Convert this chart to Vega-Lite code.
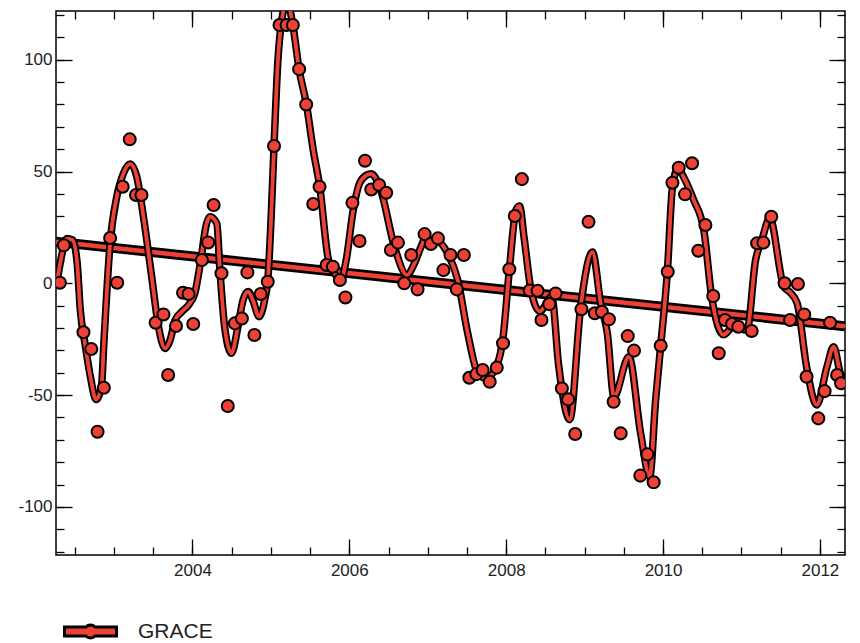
{
  "$schema": "https://vega.github.io/schema/vega-lite/v6.json",
  "width": 789,
  "height": 544,
  "autosize": {"type": "none"},
  "padding": {"left": 56, "top": 11, "right": 15, "bottom": 88},
  "background": "white",
  "config": {
    "view": {"stroke": "black", "strokeWidth": 1.5},
    "font": "Liberation Sans",
    "axis": {"domain": false, "grid": false, "labelFont": "Liberation Sans", "labelFontSize": 17, "labelColor": "#222", "tickColor": "black", "tickWidth": 1.3, "title": null}
  },
  "datasets": {
    "trend": [{"t": 2002.26, "v": 18.6}, {"t": 2012.32, "v": -19.2}],
    "curve": [
      {"t": 2002.27, "v": 0}, {"t": 2002.33, "v": 12}, {"t": 2002.40, "v": 20}, {"t": 2002.47, "v": 19.4}, {"t": 2002.53, "v": 9},
      {"t": 2002.57, "v": -12}, {"t": 2002.63, "v": -27}, {"t": 2002.70, "v": -42}, {"t": 2002.77, "v": -52}, {"t": 2002.84, "v": -46},
      {"t": 2002.87, "v": -27}, {"t": 2002.95, "v": 17.9}, {"t": 2003.035, "v": 38.7}, {"t": 2003.12, "v": 49.2}, {"t": 2003.205, "v": 53.4},
      {"t": 2003.29, "v": 47.7}, {"t": 2003.375, "v": 29.8}, {"t": 2003.48, "v": 3}, {"t": 2003.567, "v": -19.4}, {"t": 2003.65, "v": -29.1},
      {"t": 2003.715, "v": -25.4}, {"t": 2003.78, "v": -16.4}, {"t": 2003.864, "v": -12.7}, {"t": 2003.95, "v": -9.7}, {"t": 2004.03, "v": -4.5},
      {"t": 2004.10, "v": 8.9}, {"t": 2004.18, "v": 26.8}, {"t": 2004.225, "v": 29.8}, {"t": 2004.31, "v": 26.8}, {"t": 2004.35, "v": 6},
      {"t": 2004.41, "v": -19.4}, {"t": 2004.497, "v": -31.3}, {"t": 2004.58, "v": -19.4}, {"t": 2004.645, "v": -7.5}, {"t": 2004.709, "v": -3.7},
      {"t": 2004.77, "v": -7.5}, {"t": 2004.849, "v": -14.9}, {"t": 2004.92, "v": -7.5}, {"t": 2004.964, "v": 3}, {"t": 2005.007, "v": 32.8},
      {"t": 2005.04, "v": 61.4}, {"t": 2005.09, "v": 99.9}, {"t": 2005.13, "v": 115.5}, {"t": 2005.205, "v": 126}, {"t": 2005.28, "v": 115.5},
      {"t": 2005.359, "v": 95.8}, {"t": 2005.453, "v": 80}, {"t": 2005.54, "v": 59.6}, {"t": 2005.623, "v": 43.2}, {"t": 2005.73, "v": 11.2},
      {"t": 2005.81, "v": 4.5}, {"t": 2005.90, "v": 2.2}, {"t": 2005.96, "v": 10.4}, {"t": 2006.05, "v": 32.8}, {"t": 2006.13, "v": 44.7},
      {"t": 2006.22, "v": 48.4}, {"t": 2006.28, "v": 49}, {"t": 2006.40, "v": 41.7}, {"t": 2006.575, "v": 16.4}, {"t": 2006.736, "v": 3.7},
      {"t": 2006.83, "v": 8.9}, {"t": 2006.915, "v": 16.4}, {"t": 2006.957, "v": 19.4}, {"t": 2007.085, "v": 19.4}, {"t": 2007.254, "v": 13.4},
      {"t": 2007.382, "v": 1.5}, {"t": 2007.51, "v": -22.4}, {"t": 2007.638, "v": -40.2}, {"t": 2007.743, "v": -42.5}, {"t": 2007.89, "v": -35.8},
      {"t": 2007.956, "v": -25.4}, {"t": 2008.04, "v": 5.9}, {"t": 2008.125, "v": 32.8}, {"t": 2008.17, "v": 34.6}, {"t": 2008.23, "v": 20},
      {"t": 2008.32, "v": -3.7}, {"t": 2008.43, "v": -12.5}, {"t": 2008.58, "v": -6}, {"t": 2008.67, "v": -37}, {"t": 2008.81, "v": -61},
      {"t": 2008.95, "v": -10.5}, {"t": 2009.10, "v": 14}, {"t": 2009.205, "v": -9}, {"t": 2009.29, "v": -22.4}, {"t": 2009.374, "v": -50.7},
      {"t": 2009.565, "v": -32.8}, {"t": 2009.714, "v": -67}, {"t": 2009.83, "v": -86.5}, {"t": 2009.906, "v": -52}, {"t": 2009.97, "v": -28},
      {"t": 2010.055, "v": 5.2}, {"t": 2010.12, "v": 43}, {"t": 2010.19, "v": 51.4}, {"t": 2010.27, "v": 47}, {"t": 2010.39, "v": 37.3},
      {"t": 2010.52, "v": 23.8}, {"t": 2010.62, "v": -6}, {"t": 2010.77, "v": -23}, {"t": 2010.90, "v": -19.4}, {"t": 2011.07, "v": -20.9},
      {"t": 2011.18, "v": 10.4}, {"t": 2011.26, "v": 19.4}, {"t": 2011.36, "v": 29.1}, {"t": 2011.54, "v": -1.5}, {"t": 2011.62, "v": -4},
      {"t": 2011.71, "v": -8.9}, {"t": 2011.83, "v": -37.3}, {"t": 2011.96, "v": -54.4}, {"t": 2012.09, "v": -37.3}, {"t": 2012.175, "v": -28.4},
      {"t": 2012.26, "v": -40.3}, {"t": 2012.32, "v": -45}
    ],
    "points": [
      {"t": 2002.31, "v": 0.3}, {"t": 2002.36, "v": 17}, {"t": 2002.61, "v": -21.9}, {"t": 2002.71, "v": -29.4}, {"t": 2002.79, "v": -66.4},
      {"t": 2002.87, "v": -46.7}, {"t": 2002.95, "v": 20.3}, {"t": 2003.04, "v": 0.3}, {"t": 2003.11, "v": 43.2}, {"t": 2003.20, "v": 64.4},
      {"t": 2003.28, "v": 39.5}, {"t": 2003.35, "v": 39.5}, {"t": 2003.53, "v": -17.6}, {"t": 2003.63, "v": -13.9}, {"t": 2003.69, "v": -41.0},
      {"t": 2003.79, "v": -19.1}, {"t": 2003.88, "v": -4.2}, {"t": 2003.95, "v": -4.8}, {"t": 2004.01, "v": -18.2}, {"t": 2004.12, "v": 10.4},
      {"t": 2004.20, "v": 18.3}, {"t": 2004.27, "v": 35.0}, {"t": 2004.37, "v": 4.5}, {"t": 2004.45, "v": -54.9}, {"t": 2004.54, "v": -17.9},
      {"t": 2004.63, "v": -15.7}, {"t": 2004.70, "v": 4.9}, {"t": 2004.79, "v": -23.1}, {"t": 2004.87, "v": -4.8}, {"t": 2004.96, "v": 0.7},
      {"t": 2005.04, "v": 61.4}, {"t": 2005.11, "v": 115.5}, {"t": 2005.20, "v": 115.5}, {"t": 2005.28, "v": 115.5}, {"t": 2005.36, "v": 95.8},
      {"t": 2005.45, "v": 80.0}, {"t": 2005.54, "v": 35.5}, {"t": 2005.62, "v": 43.2}, {"t": 2005.71, "v": 8.2}, {"t": 2005.79, "v": 7.4},
      {"t": 2005.88, "v": 1.5}, {"t": 2005.95, "v": -6.3}, {"t": 2006.04, "v": 36.0}, {"t": 2006.13, "v": 18.9}, {"t": 2006.20, "v": 54.8},
      {"t": 2006.28, "v": 42.0}, {"t": 2006.38, "v": 44.0}, {"t": 2006.47, "v": 40.5}, {"t": 2006.53, "v": 14.9}, {"t": 2006.62, "v": 18.2},
      {"t": 2006.70, "v": 0}, {"t": 2006.79, "v": 12.7}, {"t": 2006.87, "v": -2.7}, {"t": 2006.96, "v": 22.0}, {"t": 2007.04, "v": 17.6},
      {"t": 2007.13, "v": 20.1}, {"t": 2007.20, "v": 5.9}, {"t": 2007.29, "v": 12.7}, {"t": 2007.37, "v": -2.7}, {"t": 2007.46, "v": 12.7},
      {"t": 2007.53, "v": -42.2}, {"t": 2007.62, "v": -40.6}, {"t": 2007.70, "v": -38.8}, {"t": 2007.79, "v": -44.0}, {"t": 2007.88, "v": -37.7},
      {"t": 2007.96, "v": -26.8}, {"t": 2008.04, "v": 6.3}, {"t": 2008.11, "v": 30.1}, {"t": 2008.20, "v": 46.6}, {"t": 2008.30, "v": -3.2},
      {"t": 2008.40, "v": -3.3}, {"t": 2008.45, "v": -16.4}, {"t": 2008.55, "v": -9.3}, {"t": 2008.63, "v": -4.5}, {"t": 2008.71, "v": -47.0},
      {"t": 2008.79, "v": -51.9}, {"t": 2008.88, "v": -67.4}, {"t": 2008.96, "v": -11.6}, {"t": 2009.05, "v": 27.5}, {"t": 2009.13, "v": -13.4},
      {"t": 2009.22, "v": -12.7}, {"t": 2009.31, "v": -16.1}, {"t": 2009.37, "v": -53.0}, {"t": 2009.46, "v": -67.1}, {"t": 2009.55, "v": -23.6},
      {"t": 2009.63, "v": -30.1}, {"t": 2009.71, "v": -86.0}, {"t": 2009.80, "v": -76.5}, {"t": 2009.88, "v": -89.0}, {"t": 2009.97, "v": -27.9},
      {"t": 2010.06, "v": 5.2}, {"t": 2010.12, "v": 45.0}, {"t": 2010.20, "v": 51.7}, {"t": 2010.28, "v": 39.8}, {"t": 2010.37, "v": 53.7},
      {"t": 2010.45, "v": 14.6}, {"t": 2010.54, "v": 26.1}, {"t": 2010.64, "v": -5.7}, {"t": 2010.71, "v": -31.3}, {"t": 2010.79, "v": -16.4},
      {"t": 2010.88, "v": -18.2}, {"t": 2010.96, "v": -19.4}, {"t": 2011.13, "v": -21.3}, {"t": 2011.20, "v": 17.9}, {"t": 2011.28, "v": 18.2},
      {"t": 2011.38, "v": 29.8}, {"t": 2011.55, "v": 0}, {"t": 2011.62, "v": -16.4}, {"t": 2011.72, "v": -0.3}, {"t": 2011.80, "v": -13.9},
      {"t": 2011.83, "v": -41.8}, {"t": 2011.98, "v": -60.4}, {"t": 2012.06, "v": -48.2}, {"t": 2012.13, "v": -17.6}, {"t": 2012.22, "v": -41.0},
      {"t": 2012.27, "v": -44.7}
    ]
  },
  "resolve": {"axis": {"x": "independent", "y": "independent"}},
  "layer": [
    {
      "data": {"name": "trend"},
      "mark": {"type": "line", "stroke": "black", "strokeWidth": 10, "clip": true},
      "encoding": {
        "x": {"field": "t", "type": "quantitative", "scale": {"domain": [2002.26, 2012.32], "zero": false, "nice": false},
              "axis": {"orient": "bottom", "values": [2004, 2006, 2008, 2010, 2012], "format": "d", "tickSize": -16, "labelPadding": 23, "labelFlush": false, "labelOverlap": false}},
        "y": {"field": "v", "type": "quantitative", "scale": {"domain": [-121.5, 121.8], "zero": false, "nice": false},
              "axis": {"orient": "left", "values": [-100, -50, 0, 50, 100], "labelExpr": "toString(datum.value)", "tickSize": -16, "labelPadding": 20, "labelFlush": false, "labelOverlap": false}}
      }
    },
    {
      "data": {"name": "trend"},
      "mark": {"type": "line", "stroke": "#ee4136", "strokeWidth": 4.5, "clip": true},
      "encoding": {
        "x": {"field": "t", "type": "quantitative", "scale": {"domain": [2002.26, 2012.32], "zero": false, "nice": false},
              "axis": {"orient": "bottom", "values": [2002.5, 2003, 2003.5, 2004, 2004.5, 2005, 2005.5, 2006, 2006.5, 2007, 2007.5, 2008, 2008.5, 2009, 2009.5, 2010, 2010.5, 2011, 2011.5, 2012], "tickSize": -8, "labels": false}},
        "y": {"field": "v", "type": "quantitative", "scale": {"domain": [-121.5, 121.8], "zero": false, "nice": false},
              "axis": {"orient": "left", "values": [-120, -110, -100, -90, -80, -70, -60, -50, -40, -30, -20, -10, 0, 10, 20, 30, 40, 50, 60, 70, 80, 90, 100, 110, 120], "tickSize": -8, "labels": false}}
      }
    },
    {
      "data": {"name": "curve"},
      "mark": {"type": "line", "stroke": "black", "strokeWidth": 7.5, "interpolate": "monotone", "clip": true},
      "encoding": {
        "x": {"field": "t", "type": "quantitative", "scale": {"domain": [2002.26, 2012.32], "zero": false, "nice": false},
              "axis": {"orient": "top", "values": [2004, 2006, 2008, 2010, 2012], "tickSize": -16, "labels": false}},
        "y": {"field": "v", "type": "quantitative", "scale": {"domain": [-121.5, 121.8], "zero": false, "nice": false},
              "axis": {"orient": "right", "values": [-100, -50, 0, 50, 100], "tickSize": -16, "labels": false}}
      }
    },
    {
      "data": {"name": "curve"},
      "mark": {"type": "line", "stroke": "#ee4136", "strokeWidth": 3.8, "interpolate": "monotone", "clip": true},
      "encoding": {
        "x": {"field": "t", "type": "quantitative", "scale": {"domain": [2002.26, 2012.32], "zero": false, "nice": false},
              "axis": {"orient": "top", "values": [2002.5, 2003, 2003.5, 2004, 2004.5, 2005, 2005.5, 2006, 2006.5, 2007, 2007.5, 2008, 2008.5, 2009, 2009.5, 2010, 2010.5, 2011, 2011.5, 2012], "tickSize": -8, "labels": false}},
        "y": {"field": "v", "type": "quantitative", "scale": {"domain": [-121.5, 121.8], "zero": false, "nice": false},
              "axis": {"orient": "right", "values": [-120, -110, -100, -90, -80, -70, -60, -50, -40, -30, -20, -10, 0, 10, 20, 30, 40, 50, 60, 70, 80, 90, 100, 110, 120], "tickSize": -8, "labels": false}}
      }
    },
    {
      "data": {"name": "points"},
      "mark": {"type": "point", "shape": "circle", "filled": true, "stroke": "black", "strokeWidth": 2, "size": 145, "opacity": 1, "clip": true},
      "encoding": {
        "x": {"field": "t", "type": "quantitative", "scale": {"domain": [2002.26, 2012.32], "zero": false, "nice": false}, "axis": null},
        "y": {"field": "v", "type": "quantitative", "scale": {"domain": [-121.5, 121.8], "zero": false, "nice": false}, "axis": null},
        "color": {"datum": "GRACE", "scale": {"range": ["#ee4136"]},
          "legend": {"orient": "none", "legendX": 7, "legendY": 593, "title": null, "padding": 0,
            "symbolType": "M-1,-0.173H-0.18A0.25,0.25 0 0 1 0.18,-0.173H1V0.173H0.18A0.25,0.25 0 0 1 -0.18,0.173H-1Z",
            "symbolSize": 2704, "symbolStrokeColor": "black", "symbolStrokeWidth": 3, "symbolFillColor": "#ee4136", "symbolOpacity": 1,
            "labelFontSize": 21, "labelFont": "Liberation Sans", "labelColor": "#222", "labelOffset": 20}}
      }
    }
  ]
}
